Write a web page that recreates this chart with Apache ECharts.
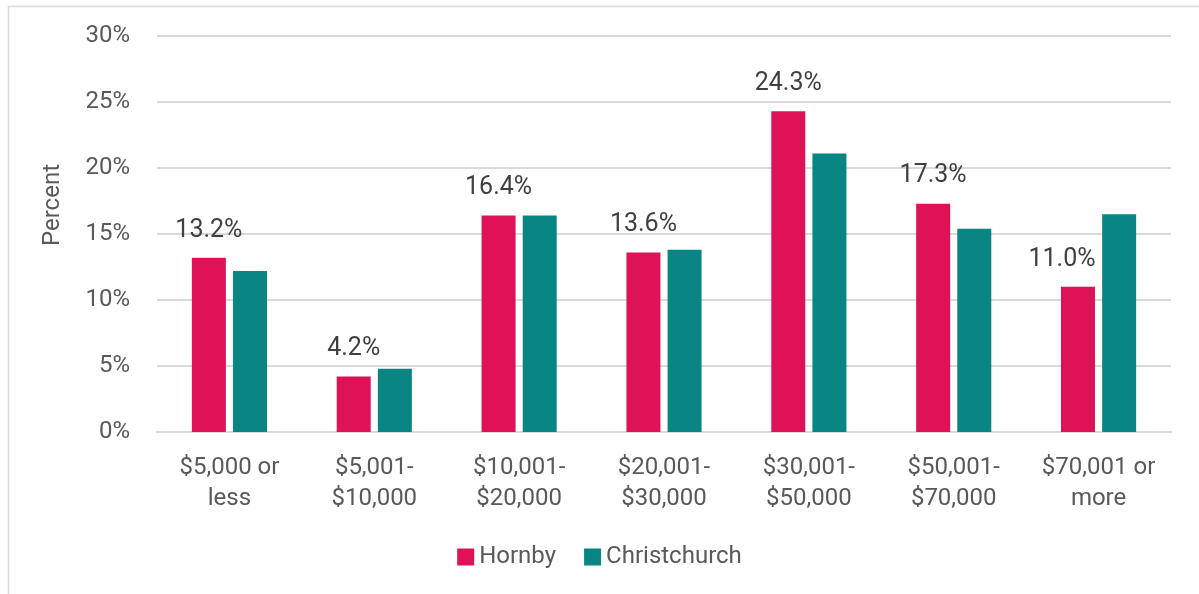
<!DOCTYPE html>
<html>
<head>
<meta charset="utf-8">
<script src="https://cdn.jsdelivr.net/npm/echarts@6/dist/echarts.min.js"></script>
<style>
html,body{margin:0;padding:0;background:#fff;}
#main{width:1199px;height:594px;}
</style>
</head>
<body>
<div id="main"></div>
<script>
// 数据
var categories = ['$5,000 or\nless', '$5,001-\n$10,000', '$10,001-\n$20,000', '$20,001-\n$30,000', '$30,001-\n$50,000', '$50,001-\n$70,000', '$70,001 or\nmore'];
var hornby = [13.2, 4.2, 16.4, 13.6, 24.3, 17.3, 11.0];
var christchurch = [12.2, 4.8, 16.4, 13.8, 21.1, 15.4, 16.5];
var yTicks = [0, 5, 10, 15, 20, 25, 30];

var fontName = 'Roboto, "Open Sans", sans-serif';

// 最后一个标签往左挪一点，避免压到旁边的柱子
var hornbyData = hornby.map(function(v, i){
    if(i == hornby.length - 1){
        return {value: v, label: {offset: [-16, 0]}};
    }
    return v;
});

var myChart = echarts.init(document.getElementById('main'));
var option = {
    backgroundColor: '#fff',
    animation: false,
    textStyle: {fontFamily: fontName},
    graphic: [{
        type: 'rect',
        shape: {x: 8.5, y: 6.5, width: 1200, height: 600},
        style: {fill: 'none', stroke: '#d9d9d9', lineWidth: 1.5},
        silent: true
    }, {
        // 纵轴标题
        type: 'text',
        x: 53,
        y: 205,
        rotation: Math.PI / 2,
        style: {
            text: 'Percent',
            fill: '#595959',
            font: '24px ' + fontName,
            textAlign: 'center',
            textVerticalAlign: 'middle'
        },
        silent: true
    }],
    legend: {
        data: ['Hornby', 'Christchurch'],
        bottom: 20,
        left: 'center',
        itemWidth: 17,
        itemHeight: 17,
        itemGap: 28,
        icon: 'rect',
        textStyle: {fontSize: 24, color: '#595959', fontFamily: fontName}
    },
    grid: {
        left: 157,
        right: 28,
        top: 36,
        bottom: 162
    },
    xAxis: {
        type: 'category',
        data: categories,
        axisTick: {show: false},
        axisLine: {lineStyle: {color: '#d9d9d9', width: 2}},
        axisLabel: {
            fontSize: 24,
            color: '#595959',
            lineHeight: 31,
            margin: 20,
            interval: 0,
            fontFamily: fontName
        }
    },
    yAxis: {
        type: 'value',
        min: yTicks[0],
        max: yTicks[yTicks.length - 1],
        interval: 5,
        axisLabel: {
            formatter: '{value}%',
            fontSize: 24,
            color: '#595959',
            margin: 27,
            fontFamily: fontName
        },
        splitLine: {lineStyle: {color: '#d9d9d9', width: 2}},
        axisLine: {show: false},
        axisTick: {show: false}
    },
    series: [
        {
            name: 'Hornby',
            type: 'bar',
            data: hornbyData,
            barWidth: 34,
            barGap: '21%',
            itemStyle: {color: '#E01257'},
            label: {
                show: true,
                position: 'top',
                distance: 15,
                formatter: function(p){ return p.value.toFixed(1) + '%'; },
                fontSize: 25,
                color: '#404040',
                fontFamily: fontName
            }
        },
        {
            name: 'Christchurch',
            type: 'bar',
            data: christchurch,
            barWidth: 34,
            itemStyle: {color: '#098583'}
        }
    ]
};
myChart.setOption(option);
</script>
</body>
</html>
